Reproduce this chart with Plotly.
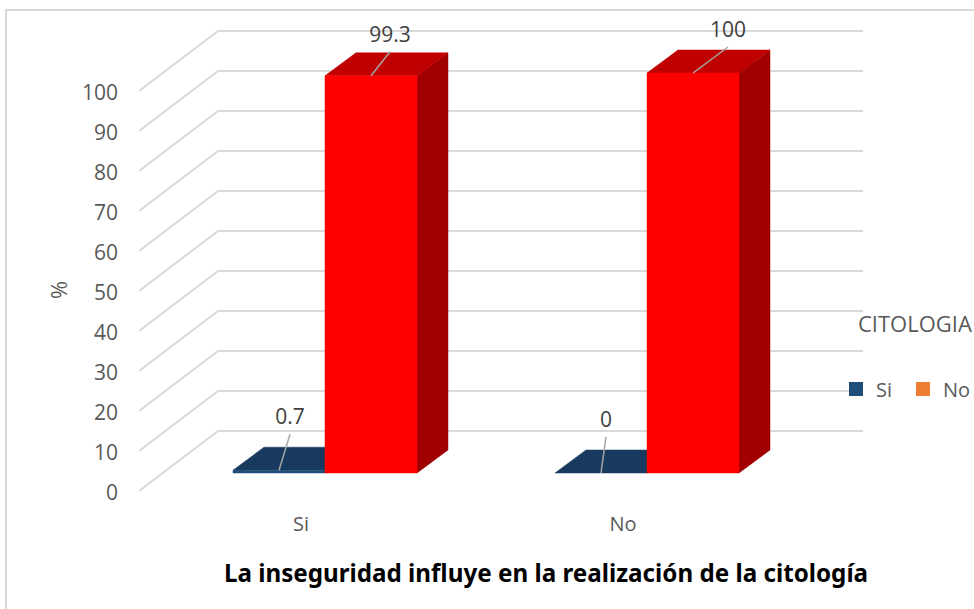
import plotly.graph_objects as go

categories = ["Si", "No"]
series_names = ["Si", "No"]
values_si = [0.7, 0]
values_no = [99.3, 100]
tick_values = list(range(0, 101, 10))
axis_title = "%"
x_title = "La inseguridad influye en la realización de la citología"
legend_title = "CITOLOGIA"

W, H = 974, 609
PX = 4.0            # pixels per value unit
Y0 = 491            # pixel row of value 0 on the front plane
FONT = "Open Sans"
GREY = "#595959"
GRID = "#d9d9d9"

CAT_X0, CAT_STEP = 301, 322   # front-plane category centres
FRONT_LEFT, WALL_LEFT, WALL_RIGHT = 139, 218, 863
WALL_DY = 60 / PX
BAR_W, BAR_DX, BAR_DY = 92, 31, 23 / PX
BAR_SHIFT_X, BAR_LIFT = 24, 18 / PX  # bar base relative to the front plane

LEADERS = [  # (dx, dy) in px from bar top to leader end
    [(11, -36), (5, -36)],
    [(19, -24), (35, -26)],
]
LABEL_GAP = 15 / PX

fig = go.Figure()


def poly(xs, ys, color):
    fig.add_trace(go.Scatter(x=xs + xs[:1], y=ys + ys[:1], mode="lines", fill="toself",
                             fillcolor=color, line=dict(color=color, width=0.5),
                             hoverinfo="skip", showlegend=False))


# wall grid lines
gx, gy = [], []
for t in tick_values:
    gx += [FRONT_LEFT, WALL_LEFT, WALL_RIGHT, None]
    gy += [t, t + WALL_DY, t + WALL_DY, None]
fig.add_trace(go.Scatter(x=gx, y=gy, mode="lines", line=dict(color=GRID, width=2),
                         hoverinfo="skip", showlegend=False))


def bar(x0, v, front, top, side):
    b = BAR_LIFT
    t = v + BAR_LIFT
    poly([x0 + BAR_W, x0 + BAR_W + BAR_DX, x0 + BAR_W + BAR_DX, x0 + BAR_W],
         [b, b + BAR_DY, t + BAR_DY, t], side)
    poly([x0, x0 + BAR_DX, x0 + BAR_W + BAR_DX, x0 + BAR_W],
         [t, t + BAR_DY, t + BAR_DY, t], top)
    if v > 0:
        poly([x0, x0 + BAR_W, x0 + BAR_W, x0], [b, b, t, t], front)


for s, (vals, cols) in enumerate([(values_si, ("#1F4E79", "#173A5E", "#143350")),
                                  (values_no, ("#FF0000", "#C00000", "#A00000"))]):
    for c, v in enumerate(vals):
        x_left = CAT_X0 + CAT_STEP * c + BAR_SHIFT_X + (s - 1) * BAR_W
        bar(x_left, v, *cols)

# leader lines and data labels
for s, vals in enumerate([values_si, values_no]):
    for c, v in enumerate(vals):
        xc = CAT_X0 + CAT_STEP * c + BAR_SHIFT_X + (s - 0.5) * BAR_W
        y_top = v + BAR_LIFT
        dx, dy = LEADERS[s][c]
        xe, ye = xc + dx, y_top - dy / PX
        fig.add_trace(go.Scatter(x=[xc, xe], y=[y_top, ye], mode="lines",
                                 line=dict(color="#a6a6a6", width=1.5),
                                 hoverinfo="skip", showlegend=False))
        fig.add_trace(go.Scatter(x=[xe], y=[ye + LABEL_GAP], mode="text", text=[f"{v:g}"],
                                 textposition="middle center",
                                 textfont=dict(family=FONT, size=21, color="#404040"),
                                 hoverinfo="skip", showlegend=False))

# legend entries
for name, col in zip(series_names, ["#1F4E79", "#ED7D31"]):
    fig.add_trace(go.Scatter(x=[None], y=[None], mode="markers", name=name,
                             marker=dict(symbol="square", size=14, color=col)))

fig.update_layout(
    width=W, height=H, margin=dict(l=0, r=0, t=0, b=0),
    paper_bgcolor="white", plot_bgcolor="rgba(0,0,0,0)",
    showlegend=True,
    legend=dict(orientation="h", x=836 / W, y=1 - 389 / H, xanchor="left", yanchor="middle",
                entrywidth=22, entrywidthmode="pixels", bgcolor="rgba(0,0,0,0)",
                font=dict(family=FONT, size=20, color=GREY)),
    title=dict(text=f"<b>{x_title}</b>", x=546 / W, y=1 - 574 / H, xanchor="center", yanchor="middle",
               font=dict(family="Noto Sans", size=24.2, color="black")),
    xaxis=dict(range=[0, W], domain=[0, 1], anchor="free", position=1 - 510 / H,
               tickmode="array", tickvals=[CAT_X0 + CAT_STEP * i for i in range(len(categories))],
               ticktext=categories, showgrid=False, zeroline=False, showline=False, ticks="",
               tickfont=dict(family=FONT, size=20, color=GREY)),
    yaxis=dict(range=[(Y0 - H) / PX, Y0 / PX], domain=[0, 1], anchor="free", position=118 / W,
               tickmode="array", tickvals=tick_values, showgrid=False, zeroline=False,
               showline=False, ticks="", ticklabelshift=2,
               tickfont=dict(family=FONT, size=21, color=GREY)),
    shapes=[dict(type="rect", xref="paper", yref="paper", x0=6 / W, x1=1.02, y0=-0.02, y1=1 - 10 / H,
                 line=dict(color=GRID, width=2), layer="below")],
    annotations=[dict(text=legend_title, xref="paper", yref="paper", x=856 / W, y=1 - 323 / H,
                      xanchor="left", yanchor="middle", showarrow=False,
                      font=dict(family=FONT, size=22, color=GREY)),
                 dict(text=axis_title, xref="paper", yref="paper", x=58 / W, y=1 - 290 / H,
                      xanchor="center", yanchor="middle", showarrow=False, textangle=-90,
                      font=dict(family=FONT, size=22, color=GREY))],
)
fig.write_html("out.html", post_script="document.body.style.margin='0';",
               config={"displayModeBar": False})
